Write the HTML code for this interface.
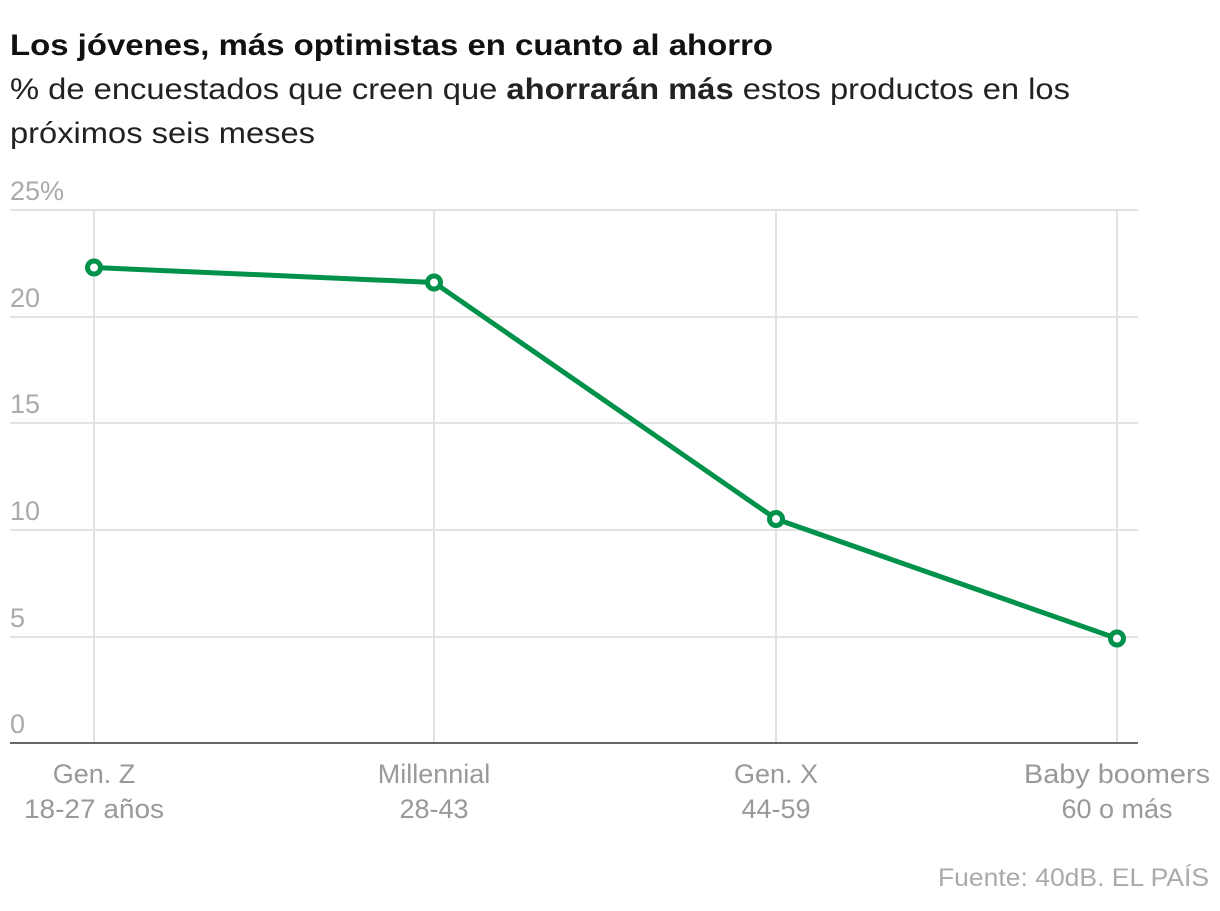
<!DOCTYPE html>
<html><head><meta charset="utf-8"><style>
body{margin:0;background:#fff;width:1220px;height:906px;overflow:hidden;font-family:"Liberation Sans",sans-serif}
</style></head><body>
<svg width="1220" height="906" xmlns="http://www.w3.org/2000/svg" font-family="Liberation Sans, sans-serif">
<text x="10" y="55" font-size="30" font-weight="bold" fill="#111" textLength="763" lengthAdjust="spacingAndGlyphs">Los jóvenes, más optimistas en cuanto al ahorro</text>
<text x="10" y="99" font-size="30" fill="#222" textLength="1060" lengthAdjust="spacingAndGlyphs">% de encuestados que creen que <tspan font-weight="bold">ahorrarán más</tspan> estos productos en los</text>
<text x="10" y="143" font-size="30" fill="#222" textLength="305" lengthAdjust="spacingAndGlyphs">próximos seis meses</text>
<g stroke="#e3e3e3" stroke-width="2">
<line x1="10" y1="210" x2="1138" y2="210"/><line x1="10" y1="317" x2="1138" y2="317"/>
<line x1="10" y1="423" x2="1138" y2="423"/><line x1="10" y1="530" x2="1138" y2="530"/>
<line x1="10" y1="637" x2="1138" y2="637"/>
<line x1="94" y1="210" x2="94" y2="743"/><line x1="434" y1="210" x2="434" y2="743"/>
<line x1="776" y1="210" x2="776" y2="743"/><line x1="1117" y1="210" x2="1117" y2="743"/>
</g>
<line x1="10" y1="743" x2="1138" y2="743" stroke="#333" stroke-width="1.5"/>
<g font-size="27" fill="#aaa">
<text x="10" y="200">25%</text><text x="10" y="307">20</text><text x="10" y="413">15</text>
<text x="10" y="520">10</text><text x="10" y="627">5</text><text x="10" y="733">0</text>
</g>
<g font-size="27" fill="#999" text-anchor="middle">
<text x="94" y="783">Gen. Z</text><text x="94" y="818" textLength="140" lengthAdjust="spacingAndGlyphs">18-27 años</text>
<text x="434" y="783">Millennial</text><text x="434" y="818">28-43</text>
<text x="776" y="783">Gen. X</text><text x="776" y="818">44-59</text>
<text x="1117" y="783" textLength="186" lengthAdjust="spacingAndGlyphs">Baby boomers</text><text x="1117" y="818">60 o más</text>
</g>
<text x="1209" y="886" font-size="25" fill="#aaa" text-anchor="end" textLength="271" lengthAdjust="spacingAndGlyphs">Fuente: 40dB. EL PAÍS</text>
<polyline points="94,267.5 434,282.5 776,519 1117,638.5" fill="none" stroke="#00914a" stroke-width="5" stroke-linejoin="round"/>
<g fill="#fff" stroke="#00914a" stroke-width="5">
<circle cx="94" cy="267.5" r="6.5"/><circle cx="434" cy="282.5" r="6.5"/>
<circle cx="776" cy="519" r="6.5"/><circle cx="1117" cy="638.5" r="6.5"/>
</g>
</svg>
</body></html>
